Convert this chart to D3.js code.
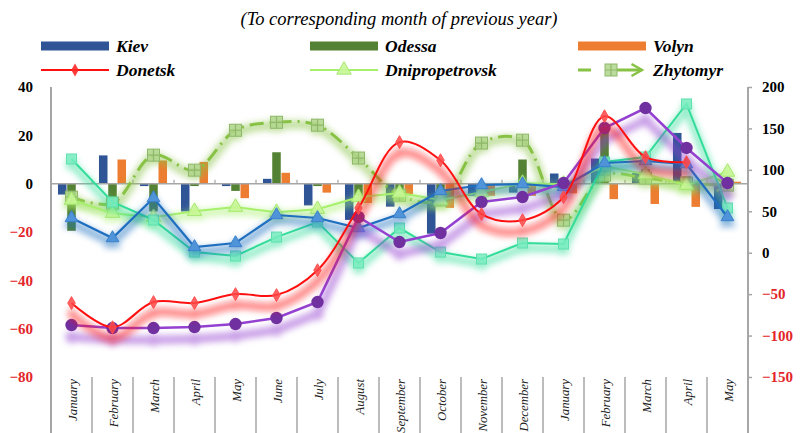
<!DOCTYPE html>
<html>
<head>
<meta charset="utf-8">
<script src="https://cdnjs.cloudflare.com/ajax/libs/d3/7.8.5/d3.min.js"></script>
<style>
  body { margin: 0; background: #fff; }
  svg text { font-family: "Liberation Serif", "Times New Roman", Times, "DejaVu Serif", serif; }
</style>
</head>
<body>
<svg id="chart" width="801" height="433"></svg>
<script>
// categories (two years, Jan .. May of the second)
const months = ["January", "February", "March", "April", "May", "June", "July", "August",
    "September", "October", "November", "December", "January", "February", "March", "April", "May"];

// bar series (left axis)
const kiev    = [-4.5, 11.7, -1, -11.5, -1, 2, -9, -15, -9.5, -20.7, -5, -3.7, 4.2, 10.4, 4.4, 21, -10.5];
const odessa  = [-19.5, -7.5, -11.5, -1, -3, 13, -1, -5, -7, -6, -3, 10, -2, 24.7, 6, 3, -3];
const volyn   = [0, 10, 9.6, 9, -6, 4.5, -3.7, -8, -4.3, -10, -5, -5, -4, -6.4, -8.4, -9.6, 0.8];

// line series (left axis)
const donetsk  = [-49.4, -59.4, -49, -49.4, -45.7, -46.1, -35.8, -10.1, 17.2, 9.7, -12.6, -15.1, -5.6, 27.9, 11, 8.9, null];
const dnipro   = [-6.8, -12.2, -13.9, -11.4, -9.7, -11.8, -10.6, -5.6, -3.9, -6.8, -3.5, 0.2, -0.2, 7.2, 3.9, -0.6, 4.8];
const zhytomyr = [-5.6, -8.1, 11.8, 5.6, 22.1, 25.4, 24.2, 10.6, -4.8, -6.8, 16.8, 18, -15.1, 3.5, 2.3, 0.2, -0.6];

// line series without legend entry (right axis)
const purpleSeries = [-87.3, -90.9, -90.9, -89.7, -86.1, -78.8, -59.5, 43.1, 12.9, 23.8, 61.2, 67.2, 84.1, 150.5, 174.6, 126.4, 84.1];
const tealSeries   = [113.1, 61.2, 39.5, 0.8, -4, 18.9, 37, -12.4, 29.8, 0.8, -7.6, 11.7, 10.5, 109.5, 115.5, 179.5, 54];
const blueSeries   = [41.9, 17.7, 66, 6.9, 11.7, 45.5, 41.9, 29.8, 46.7, 74.5, 81.7, 82.9, 79.3, 108.3, 110.7, 107, 43.1];

// axis ticks
const leftTicks  = [-80, -60, -40, -20, 0, 20, 40];
const rightTicks = [-150, -100, -50, 0, 50, 100, 150, 200];

var svg = d3.select("#chart"),
    width = +svg.attr("width"),
    height = +svg.attr("height");

const plotL = 51, plotR = 748, plotT = 87, plotB = 377;
const RED = "#e3262a";
const SERIF = "'Liberation Serif', 'Times New Roman', Times, 'DejaVu Serif', serif";

let defs = svg.append("defs");
defs.append("filter").attr("id", "blur")
    .attr("x", "-50%").attr("y", "-50%").attr("width", "200%").attr("height", "200%")
    .append("feGaussianBlur").attr("stdDeviation", 3.4);
defs.append("marker").attr("id", "arrow")
    .attr("viewBox", "0 0 10 10").attr("refX", 8).attr("refY", 5)
    .attr("markerWidth", 5).attr("markerHeight", 5).attr("orient", "auto")
    .append("path").attr("d", "M1,1 L8,5 L1,9")
    .attr("fill", "none").attr("stroke", "#88c244").attr("stroke-width", 1.6);

//scales
let idx = d3.range(months.length);
let x0 = d3.scaleBand().domain(idx).range([plotL, plotR]).paddingInner(0.34).paddingOuter(0.17);
let x1 = d3.scaleBand().domain([0, 1, 2]).range([0, x0.bandwidth()]).paddingInner(0.08);
let xc = i => x0(i) + x0.bandwidth() / 2;
let yL = d3.scaleLinear().domain([-80, 40]).range([plotB, plotT]);
let yR = d3.scaleLinear().domain([-150, 200]).range([plotB, plotT]);

// title
svg.append("text")
    .attr("x", 399).attr("y", 25)
    .attr("text-anchor", "middle")
    .attr("font-family", SERIF)
    .attr("font-style", "italic").attr("font-size", 18.5)
    .text("(To corresponding month of previous year)");

//axes
let leftAxis = svg.append("g")
    .attr("transform", `translate(${plotL},0)`)
    .call(d3.axisLeft(yL).tickValues(leftTicks).tickSize(0).tickPadding(18));
leftAxis.attr("font-family", SERIF);
leftAxis.select(".domain").remove();
leftAxis.selectAll("text")
    .attr("font-size", 15).attr("font-weight", "bold")
    .attr("fill", d => d < 0 ? RED : "#000");

let rightAxis = svg.append("g")
    .attr("transform", `translate(${plotR},0)`)
    .call(d3.axisRight(yR).tickValues(rightTicks).tickSize(4).tickPadding(10));
rightAxis.attr("font-family", SERIF);
rightAxis.select(".domain").remove();
rightAxis.selectAll("line").attr("stroke", "#a6a6a6").attr("stroke-width", 1.5);
rightAxis.selectAll("text")
    .attr("font-size", 15).attr("font-weight", "bold")
    .attr("fill", d => d < 0 ? RED : "#000");

svg.append("line").attr("x1", plotL).attr("x2", plotL).attr("y1", plotT).attr("y2", height)
    .attr("stroke", "#a6a6a6").attr("stroke-width", 2);
svg.append("line").attr("x1", plotR).attr("x2", plotR).attr("y1", plotT).attr("y2", height)
    .attr("stroke", "#a6a6a6").attr("stroke-width", 2);

// bars
let barSeries = [kiev, odessa, volyn];
let barColors = ["#2f5597", "#548235", "#ed7d31"];
let barG = svg.append("g");
barSeries.forEach(function (vals, s) {
    barG.selectAll(null)
        .data(vals)
        .enter().append("rect")
        .attr("x", (d, i) => x0(i) + x1(s))
        .attr("width", x1.bandwidth())
        .attr("y", d => yL(Math.max(0, d)))
        .attr("height", d => Math.abs(yL(d) - yL(0)))
        .attr("fill", barColors[s]);
});

// category line on zero with small ticks
let y0 = yL(0);
svg.append("line").attr("x1", plotL).attr("x2", plotR).attr("y1", y0).attr("y2", y0)
    .attr("stroke", "#a6a6a6").attr("stroke-width", 1.5);
let bounds = d3.range(1, months.length).map(k => plotL + k * x0.step());
svg.append("g").selectAll("line")
    .data(bounds)
    .enter().append("line")
    .attr("x1", d => d).attr("x2", d => d)
    .attr("y1", y0 - 4).attr("y2", y0)
    .attr("stroke", "#a6a6a6").attr("stroke-width", 1.2);

// separators and month labels below the plot
svg.append("g").selectAll("line")
    .data(bounds)
    .enter().append("line")
    .attr("x1", d => d).attr("x2", d => d)
    .attr("y1", plotB).attr("y2", height)
    .attr("stroke", "#a6a6a6").attr("stroke-width", 1.5);
svg.append("g").selectAll("text")
    .data(months)
    .enter().append("text")
    .attr("transform", (d, i) => `translate(${xc(i) + 1},${plotB + 2}) rotate(-90)`)
    .attr("text-anchor", "end")
    .attr("dy", "0.35em")
    .attr("font-family", SERIF)
    .attr("font-style", "italic").attr("font-size", 12.8)
    .attr("fill", "#222")
    .text(d => d);

//marker shapes
function drawMarker(g, type, px, py, st) {
    if (type === "circle") {
        g.append("circle").attr("cx", px).attr("cy", py).attr("r", 6.2).attr("fill", st.fill);
    } else if (type === "square") {
        g.append("rect").attr("x", px - 5).attr("y", py - 5).attr("width", 10).attr("height", 10)
            .attr("fill", st.fill).attr("stroke", st.stroke).attr("stroke-width", 1);
    } else if (type === "plusSquare") {
        g.append("rect").attr("x", px - 6).attr("y", py - 6).attr("width", 12).attr("height", 12)
            .attr("fill", st.fill).attr("stroke", st.stroke).attr("stroke-width", 1);
        g.append("path").attr("d", `M${px - 6},${py}H${px + 6}M${px},${py - 6}V${py + 6}`)
            .attr("stroke", st.stroke).attr("stroke-width", 1.2);
    } else {
        let sym = type === "diamond" ? d3.symbolDiamond : d3.symbolTriangle;
        let size = type === "diamond" ? 48 : st.size || 60;
        g.append("path").attr("d", d3.symbol(sym, size)())
            .attr("transform", `translate(${px},${py})`)
            .attr("fill", st.fill).attr("stroke", st.stroke || "none").attr("stroke-width", 1);
    }
}

let lineSeries = [
    {values: zhytomyr, y: yL, color: "#88c244", width: 3, dash: "14,6,2,6", curve: d3.curveCatmullRom,
        marker: "plusSquare", fill: "rgba(176,214,140,0.85)", stroke: "#8fb86a", dy: 3, arrow: true},
    {values: dnipro, y: yL, color: "#a6f06c", width: 2, curve: d3.curveLinear,
        marker: "triangle", fill: "rgba(200,246,150,0.9)", stroke: "#a6e870", size: 90, dy: 3},
    {values: tealSeries, y: yR, color: "#33dd99", width: 2, curve: d3.curveLinear,
        marker: "square", fill: "rgba(120,236,190,0.85)", stroke: "#60e0b0", dy: 5},
    {values: blueSeries, y: yR, color: "#1f6fc0", width: 2.2, curve: d3.curveLinear,
        marker: "triangle", fill: "#4f93d8", stroke: "#3b80cc", size: 70, dy: 5},
    {values: purpleSeries, y: yR, color: "#9440d0", width: 2.5, curve: d3.curveLinear,
        marker: "circle", fill: "#7030a0", dy: 12},
    {values: donetsk, y: yL, color: "#ff1010", width: 2, curve: d3.curveCatmullRom,
        marker: "diamond", fill: "rgba(255,70,70,0.85)", stroke: "#ff5050", dy: 11}
];

lineSeries.forEach(function (s) {
    let pts = s.values.map((v, i) => v == null ? null : [xc(i), s.y(v)]);
    let line = d3.line().defined(d => d != null).curve(s.curve);
    let valid = pts.filter(p => p != null);

    // blurred shadow underneath
    let sh = svg.append("g")
        .attr("transform", `translate(0,${s.dy})`)
        .attr("filter", "url(#blur)")
        .attr("opacity", 0.5);
    sh.append("path").attr("d", line(pts)).attr("fill", "none")
        .attr("stroke", s.color).attr("stroke-width", s.width + 6);
    valid.forEach(p => drawMarker(sh, s.marker, p[0], p[1], {fill: s.color, stroke: s.color, size: (s.size || 60) * 1.6}));

    let g = svg.append("g");
    let path = g.append("path").attr("d", line(pts)).attr("fill", "none")
        .attr("stroke", s.color).attr("stroke-width", s.width);
    if (s.dash) path.attr("stroke-dasharray", s.dash);
    if (s.arrow) path.attr("marker-end", "url(#arrow)");
    valid.forEach(p => drawMarker(g, s.marker, p[0], p[1], s));
});

// legend
let legend = svg.append("g");
let legItems = [
    {label: "Kiev", x: 41, row: 0, type: "bar", color: "#2f5597"},
    {label: "Odessa", x: 310, row: 0, type: "bar", color: "#548235"},
    {label: "Volyn", x: 578, row: 0, type: "bar", color: "#ed7d31"},
    {label: "Donetsk", x: 41, row: 1, type: "line", color: "#ff1010", marker: "diamond", fill: "rgba(255,40,40,0.9)"},
    {label: "Dnipropetrovsk", x: 310, row: 1, type: "line", color: "#a6f06c", marker: "triangle", fill: "rgba(200,246,150,0.9)", stroke: "#a6e870", size: 90},
    {label: "Zhytomyr", x: 578, row: 1, type: "zh", color: "#88c244", marker: "plusSquare", fill: "rgba(176,214,140,0.85)", stroke: "#8fb86a"}
];
legItems.forEach(function (it) {
    let cy = it.row === 0 ? 46 : 70;
    if (it.type === "bar") {
        legend.append("rect").attr("x", it.x).attr("y", cy - 4.5).attr("width", 68).attr("height", 9).attr("fill", it.color);
    } else if (it.type === "line") {
        legend.append("line").attr("x1", it.x).attr("x2", it.x + 68).attr("y1", cy).attr("y2", cy)
            .attr("stroke", it.color).attr("stroke-width", 2);
        drawMarker(legend, it.marker, it.x + 34, cy, it);
    } else {
        legend.append("line").attr("x1", it.x).attr("x2", it.x + 13).attr("y1", cy).attr("y2", cy)
            .attr("stroke", it.color).attr("stroke-width", 3);
        legend.append("line").attr("x1", it.x + 39).attr("x2", it.x + 64).attr("y1", cy).attr("y2", cy)
            .attr("stroke", it.color).attr("stroke-width", 3).attr("marker-end", "url(#arrow)");
        drawMarker(legend, it.marker, it.x + 33, cy, it);
    }
    legend.append("text")
        .attr("x", it.x + 75).attr("y", cy + 6)
        .attr("font-family", SERIF)
        .attr("font-size", 17.5).attr("font-weight", "bold").attr("font-style", "italic")
        .text(it.label);
});
</script>
</body>
</html>
